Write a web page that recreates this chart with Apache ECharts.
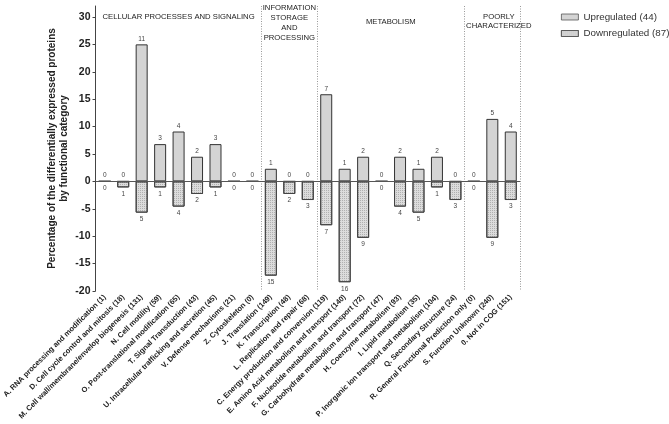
<!DOCTYPE html>
<html>
<head>
<meta charset="utf-8">
<script src="https://cdn.jsdelivr.net/npm/echarts@6/dist/echarts.min.js"></script>
<style>
  html, body { margin: 0; padding: 0; background: #fff; }
  #chart { width: 669px; height: 424px; }
</style>
</head>
<body>
<div id="chart"></div>
<script>
const categories = [
  'A. RNA processing and modification (1)',
  'D. Cell cycle control and mitosis (18)',
  'M. Cell wall/membrane/envelop biogenesis (131)',
  'N. Cell motility (59)',
  'O. Post-translational modification (65)',
  'T. Signal Transduction (43)',
  'U. Intracellular trafficking and secretion (45)',
  'V. Defense mechanisms (21)',
  'Z. Cytoskeleton (0)',
  'J. Translation (149)',
  'K. Transcription (48)',
  'L. Replication and repair (68)',
  'C. Energy production and conversion (119)',
  'E. Amino Acid metabolism and transport (140)',
  'F. Nucleotide metabolism and transport (72)',
  'G. Carbohydrate metabolism and transport (47)',
  'H. Coenzyme metabolism (93)',
  'I. Lipid metabolism (35)',
  'P. Inorganic ion transport and metabolism (104)',
  'Q. Secondary Structure (24)',
  'R. General Functional Prediction only (0)',
  'S. Function Unknown (240)',
  '0. Not in COG (151)'
];
const upCounts   = [0, 0, 11, 3, 4, 2, 3, 0, 0, 1, 0, 0, 7, 1, 2, 0, 2, 1, 2, 0, 0, 5, 4];
const downCounts = [0, 1, 5, 1, 4, 2, 1, 0, 0, 15, 2, 3, 7, 16, 9, 0, 4, 5, 1, 3, 0, 9, 3];
const upPercent   = [0, 0, 25.0, 6.8, 9.1, 4.5, 6.8, 0, 0, 2.3, 0, 0, 15.9, 2.3, 4.5, 0, 4.5, 2.3, 4.5, 0, 0, 11.4, 9.1];
const downPercent = [0, -1.1, -5.7, -1.1, -4.6, -2.3, -1.1, 0, 0, -17.2, -2.3, -3.4, -8.0, -18.4, -10.3, 0, -4.6, -5.7, -1.1, -3.4, 0, -10.3, -3.4];
const yTicks = [-20, -15, -10, -5, 0, 5, 10, 15, 20, 25, 30];
const groupNames = ['CELLULAR PROCESSES AND SIGNALING', 'INFORMATION\nSTORAGE\nAND\nPROCESSING', 'METABOLISM', 'POORLY\nCHARACTERIZED'];
const groupStarts = [9, 12, 20];
const seriesNames = ['Upregulated (44)', 'Downregulated (87)'];

const FONT = '"Liberation Sans", Arial, Helvetica, sans-serif';
const chart = echarts.init(document.getElementById('chart'), null, { renderer: 'canvas' });

const groupPos = [[4.5, 30.0], [10.5, 28.9], [16.0, 29.1], [21.85, 29.2]];

const option = {
  animation: false,
  backgroundColor: '#ffffff',
  textStyle: { fontFamily: FONT },
  legend: {
    orient: 'vertical',
    left: 556,
    top: 7,
    itemWidth: 17,
    itemHeight: 6,
    itemGap: 6.5,
    icon: 'rect',
    data: seriesNames,
    itemStyle: { borderWidth: 0.8, borderColor: '#555' },
    textStyle: { fontFamily: FONT, fontSize: 9.8, color: '#333' }
  },
  grid: { left: 92, right: 149, top: 6, bottom: 133, containLabel: false },
  xAxis: [
    {
      type: 'category',
      data: categories,
      boundaryGap: true,
      axisLine: { show: false, onZero: false },
      axisTick: { show: false },
      axisLabel: {
        interval: 0,
        rotate: 45,
        margin: 5,
        fontSize: 7.5,
        fontWeight: 'bold',
        color: '#222',
        fontFamily: FONT
      },
      splitLine: {
        show: true,
        interval: function (i) { return groupStarts.indexOf(i) >= 0; },
        lineStyle: { color: '#999', type: [1, 1.5], width: 1 }
      }
    },
    { type: 'value', min: 0, max: categories.length, show: false }
  ],
  yAxis: {
    type: 'value',
    min: -20,
    max: 32,
    interval: 5,
    name: 'Percentage of the differentially expressed proteins\nby functional category',
    nameLocation: 'middle',
    nameGap: 25,
    nameMoveOverlap: false,
    nameTextStyle: { fontFamily: FONT, fontWeight: 'bold', fontSize: 10, lineHeight: 12.5, color: '#222' },
    axisLine: { show: true, lineStyle: { color: '#444', width: 1 } },
    axisTick: { show: true, length: 3, lineStyle: { color: '#444' }, customValues: yTicks },
    axisLabel: { fontWeight: 'bold', fontSize: 10.5, color: '#222', margin: 5, fontFamily: FONT, customValues: yTicks },
    splitLine: { show: false }
  },
  series: [
    {
      name: seriesNames[0],
      type: 'bar',
      data: upPercent,
      barWidth: 12,
      barGap: '-100%',
      itemStyle: { color: '#d4d4d4', borderColor: '#333', borderWidth: 1 },
      label: {
        show: true, position: 'top', distance: 2,
        fontSize: 6.5, color: '#444', fontFamily: FONT,
        formatter: function (p) { return String(upCounts[p.dataIndex]); }
      },
      markLine: {
        silent: true, symbol: 'none',
        label: { show: false },
        lineStyle: { color: '#555', width: 1, type: 'solid' },
        data: [{ yAxis: 0 }]
      }
    },
    {
      name: seriesNames[1],
      type: 'bar',
      data: downPercent,
      barWidth: 12,
      barGap: '-100%',
      itemStyle: {
        color: '#dcdcdc', borderColor: '#444', borderWidth: 1,
        decal: { symbol: 'rect', symbolSize: 1, dashArrayX: [1, 1], dashArrayY: [1, 1], color: 'rgba(0,0,0,0.2)', rotation: 0 }
      },
      label: {
        show: true, position: 'bottom', distance: 3,
        fontSize: 6.5, color: '#444', fontFamily: FONT,
        formatter: function (p) { return String(downCounts[p.dataIndex]); }
      }
    },
    {
      type: 'scatter',
      xAxisIndex: 1,
      data: [],
      silent: true,
      markPoint: {
        silent: true,
        symbol: 'rect',
        symbolSize: 0,
        itemStyle: { color: 'rgba(0,0,0,0)' },
        label: { show: true, position: 'inside', fontSize: 7.7, lineHeight: 9.8, color: '#222', fontFamily: FONT, align: 'center', verticalAlign: 'middle' },
        data: groupNames.map(function (n, i) {
          return { coord: groupPos[i], value: n, label: { formatter: n } };
        })
      }
    }
  ]
};
chart.setOption(option);
</script>
</body>
</html>
